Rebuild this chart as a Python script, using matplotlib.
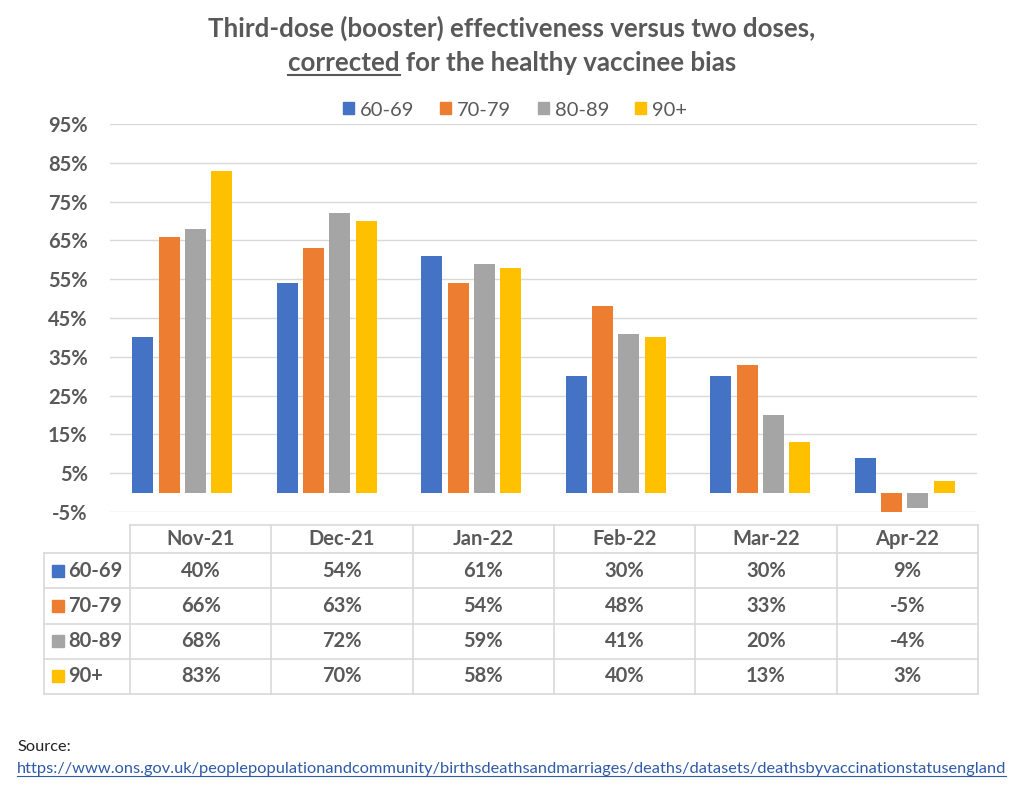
import numpy as np
import matplotlib
matplotlib.use("Agg")
import matplotlib.pyplot as plt
from matplotlib.patches import Rectangle
from matplotlib.lines import Line2D

# ---------------- data ----------------
months = ["Nov-21", "Dec-21", "Jan-22", "Feb-22", "Mar-22", "Apr-22"]
groups = ["60-69", "70-79", "80-89", "90+"]
v_60_69 = [40, 54, 61, 30, 30, 9]
v_70_79 = [66, 63, 54, 48, 33, -5]
v_80_89 = [68, 72, 59, 41, 20, -4]
v_90p = [83, 70, 58, 40, 13, 3]
yticks = [-5, 5, 15, 25, 35, 45, 55, 65, 75, 85, 95]
title1 = "Third-dose (booster) effectiveness versus two doses,"
title2_u = "corrected"
title2_rest = " for the healthy vaccinee bias"
source_label = "Source:"
source_url = "https://www.ons.gov.uk/peoplepopulationandcommunity/birthsdeathsandmarriages/deaths/datasets/deathsbyvaccinationstatusengland"

series = [v_60_69, v_70_79, v_80_89, v_90p]
colors = ["#4472C4", "#ED7D31", "#A5A5A5", "#FFC000"]

# ---------------- style ----------------
W, H = 1024, 798
FONT = ["Lato", "DejaVu Sans"]
TXT = "#595959"
GRID = "#D9D9D9"
TITLE_FS = 18.6
plt.rcParams["font.family"] = FONT

fig = plt.figure(figsize=(W / 100, H / 100), dpi=100)
fig.patch.set_facecolor("white")


def fx(px):
    return px / W


def fy(py):
    return 1 - py / H


# ---------------- bar chart ----------------
ax = fig.add_axes([fx(110), fy(512), fx(977) - fx(110), fy(124) - fy(512)])
x = np.arange(len(months))
step, bw = 0.182, 0.145
for i, vals in enumerate(series):
    ax.bar(x + (i - 1.5) * step, vals, width=bw, color=colors[i], zorder=3)
ax.set_xlim(-0.5, len(months) - 0.5)
ax.set_ylim(yticks[0], yticks[-1])
ax.set_yticks(yticks)
ax.set_yticklabels([f"{t}%" for t in yticks], fontsize=14.5, fontweight="bold", color=TXT)
ax.set_xticks([])
ax.grid(axis="y", color=GRID, lw=1, zorder=0)
for s in ax.spines.values():
    s.set_visible(False)
ax.tick_params(axis="y", length=0, pad=16)

# ---------------- legend ----------------
handles = [Rectangle((0, 0), 1, 1, color=c) for c in colors]
fig.legend(handles, groups, loc="center", bbox_to_anchor=(fx(515), fy(110)), ncol=4,
           frameon=False, handlelength=0.55, handleheight=0.55, handletextpad=0.3,
           columnspacing=1.3, prop={"size": 14.5}, labelcolor=TXT)

# ---------------- title ----------------
fig.text(0.5, fy(37), title1, ha="center", va="baseline", fontsize=TITLE_FS,
         fontweight="bold", color=TXT)
t2 = fig.text(0.5, fy(71), title2_u + title2_rest, ha="center", va="baseline",
              fontsize=TITLE_FS, fontweight="bold", color=TXT)

# ---------------- data table ----------------
lab_w = 86 / 141.3
hdr_h = 0.8
ta = fig.add_axes([fx(44), fy(694), fx(978) - fx(44), fy(525) - fy(694)])
ncol = len(months)
nrow = len(groups)
ta.set_xlim(0, lab_w + ncol)
ta.set_ylim(hdr_h + nrow, 0)
ta.axis("off")
x_end = lab_w + ncol
lk = dict(color=GRID, lw=1.2, clip_on=False)
ta.plot([lab_w, x_end], [0, 0], **lk)
for r in range(nrow + 1):
    ta.plot([0, x_end], [hdr_h + r, hdr_h + r], **lk)
for c in range(ncol + 1):
    ta.plot([lab_w + c, lab_w + c], [0, hdr_h + nrow], **lk)
ta.plot([0, 0], [hdr_h, hdr_h + nrow], **lk)
for c, m in enumerate(months):
    ta.text(lab_w + c + 0.5, hdr_h / 2, m, ha="center", va="center", fontsize=14.5,
            fontweight="bold", color=TXT)
for r, (g, vals) in enumerate(zip(groups, series)):
    yc = hdr_h + r + 0.5
    ta.add_patch(Rectangle((0.057, yc - 0.17), 0.085, 0.34, color=colors[r], clip_on=False))
    ta.text(0.17, yc, g, ha="left", va="center", fontsize=14.5, fontweight="bold", color=TXT)
    for c, v in enumerate(vals):
        ta.text(lab_w + c + 0.5, yc, f"{v}%", ha="center", va="center", fontsize=14.5,
                fontweight="bold", color=TXT)

# ---------------- source ----------------
fig.text(fx(17), fy(751), source_label, ha="left", va="baseline", fontsize=11.8, color="#222222")
url = fig.text(fx(17), fy(773), source_url, ha="left", va="baseline", fontsize=11.8, color="#2E5AA8")

# ---------------- underlines ----------------
fig.canvas.draw()
r = fig.canvas.get_renderer()
full = t2.get_window_extent(r)
tmp = fig.text(0, 0, title2_u, fontsize=TITLE_FS, fontweight="bold")
wu = tmp.get_window_extent(r).width
tmp.remove()
uy = fy(75)
fig.add_artist(Line2D([full.x0 / W, (full.x0 + wu) / W], [uy, uy], color=TXT, lw=1.5))
ub = url.get_window_extent(r)
fig.add_artist(Line2D([ub.x0 / W, ub.x1 / W], [fy(776), fy(776)], color="#2E5AA8", lw=0.8))

fig.savefig("out.png", dpi=100, facecolor="white")
